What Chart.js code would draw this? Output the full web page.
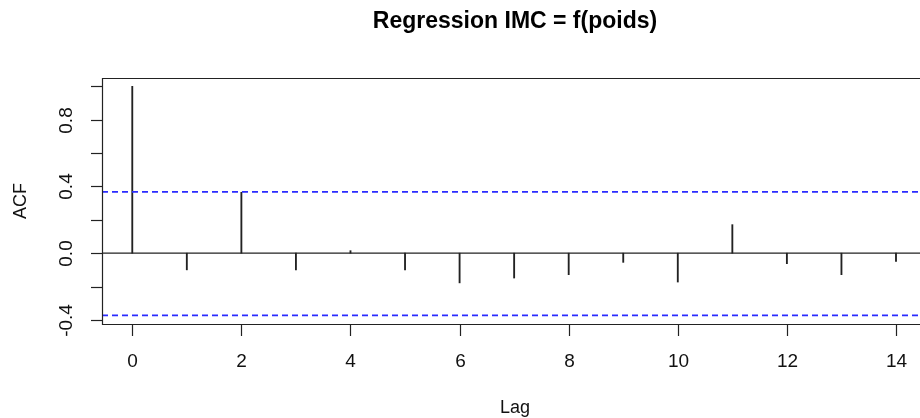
<!DOCTYPE html>
<html>
<head>
<meta charset="utf-8">
<script src="https://cdn.jsdelivr.net/npm/chart.js@4"></script>
<style>
  html, body { margin: 0; padding: 0; background: #fff; }
</style>
</head>
<body>
<canvas id="chart" width="920" height="418"></canvas>
<script>
const lags = [0, 1, 2, 3, 4, 5, 6, 7, 8, 9, 10, 11, 12, 13, 14];
const acfValues = [1.0, -0.10, 0.365, -0.10, 0.015, -0.10, -0.178, -0.149, -0.129, -0.055, -0.173, 0.171, -0.063, -0.129, -0.049];
const ciUpper = 0.367;
const ciLower = -0.373;
const xTicks = [0, 2, 4, 6, 8, 10, 12, 14];
const yTicks = [-0.4, -0.2, 0.0, 0.2, 0.4, 0.6, 0.8, 1.0];
const yTickLabels = ['-0.4', '', '0.0', '', '0.4', '', '0.8', ''];

const xMin = -0.555, xMax = 14.44;
const yMin = -0.4245, yMax = 1.05;
const font = "'Liberation Sans', Arial, sans-serif";

// box, ticks and labels drawn R-style from the chart's own scales
const rAxes = {
  id: 'rAxes',
  afterDraw(c) {
    const ctx = c.ctx;
    const x = c.scales.x, y = c.scales.y;
    const a = c.chartArea;
    ctx.save();
    ctx.strokeStyle = '#222';
    ctx.lineWidth = 1.2;
    ctx.beginPath();
    ctx.moveTo(a.right + 5, a.top + 0.5);
    ctx.lineTo(a.left + 0.5, a.top + 0.5);
    ctx.lineTo(a.left + 0.5, a.bottom + 0.5);
    ctx.lineTo(a.right + 5, a.bottom + 0.5);
    ctx.stroke();

    ctx.fillStyle = '#111';
    ctx.font = '19px ' + font;
    ctx.textAlign = 'center';
    ctx.textBaseline = 'middle';
    xTicks.forEach(v => {
      const px = Math.round(x.getPixelForValue(v)) + 0.5;
      ctx.beginPath();
      ctx.moveTo(px, a.bottom);
      ctx.lineTo(px, a.bottom + 12);
      ctx.stroke();
      ctx.fillText(String(v), px, 362);
    });
    yTicks.forEach((v, i) => {
      const py = Math.round(y.getPixelForValue(v)) + 0.5;
      ctx.beginPath();
      ctx.moveTo(a.left - 11, py);
      ctx.lineTo(a.left, py);
      ctx.stroke();
      if (yTickLabels[i]) {
        ctx.save();
        ctx.translate(67, py);
        ctx.rotate(-Math.PI / 2);
        ctx.fillText(yTickLabels[i], 0, 0);
        ctx.restore();
      }
    });

    ctx.font = '18px ' + font;
    ctx.fillText('Lag', 515, 408);
    ctx.save();
    ctx.translate(21, 201);
    ctx.rotate(-Math.PI / 2);
    ctx.fillText('ACF', 0, 0);
    ctx.restore();

    ctx.font = 'bold 23px ' + font;
    ctx.fillStyle = '#000';
    ctx.fillText('Regression IMC = f(poids)', 515, 22);
    ctx.restore();
  }
};

const chart = document.querySelector('#chart').getContext('2d');

new Chart(chart, {
  type: 'bar',
  data: {
    datasets: [
      {
        type: 'line',
        data: [{ x: xMin, y: ciUpper }, { x: xMax, y: ciUpper }],
        borderColor: '#2b2bff',
        borderWidth: 1.8,
        borderDash: [6, 4],
        pointRadius: 0,
        fill: false
      },
      {
        type: 'line',
        data: [{ x: xMin, y: ciLower }, { x: xMax, y: ciLower }],
        borderColor: '#2b2bff',
        borderWidth: 1.8,
        borderDash: [6, 4],
        pointRadius: 0,
        fill: false
      },
      {
        type: 'line',
        data: [{ x: xMin, y: 0 }, { x: xMax, y: 0 }],
        borderColor: '#222',
        borderWidth: 1.2,
        pointRadius: 0,
        fill: false
      },
      {
        type: 'bar',
        data: lags.map((l, i) => ({ x: l, y: acfValues[i] })),
        backgroundColor: '#222',
        borderWidth: 0,
        barThickness: 1.2
      }
    ]
  },
  options: {
    responsive: false,
    animation: false,
    devicePixelRatio: 1,
    layout: { padding: { left: 102, top: 78, right: 0, bottom: 94 } },
    plugins: { legend: { display: false }, tooltip: { enabled: false } },
    scales: {
      x: { type: 'linear', min: xMin, max: xMax, offset: false, display: false },
      y: { type: 'linear', min: yMin, max: yMax, display: false }
    }
  },
  plugins: [rAxes]
});
</script>
</body>
</html>
